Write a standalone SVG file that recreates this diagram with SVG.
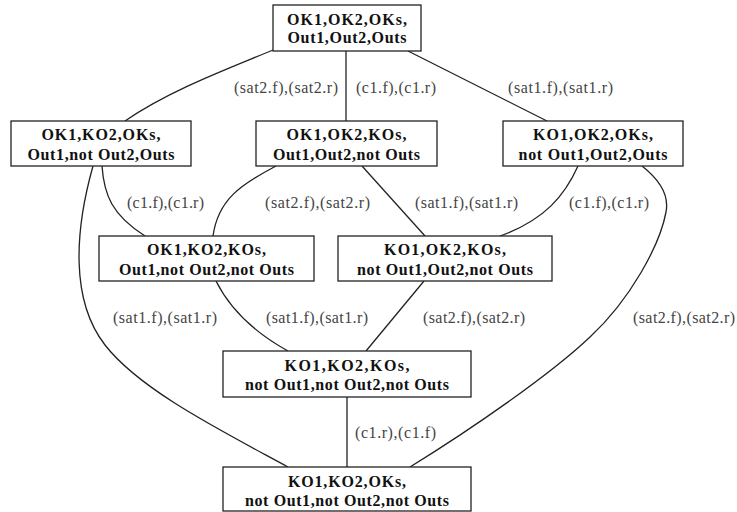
<svg xmlns="http://www.w3.org/2000/svg" width="737" height="512" viewBox="0 0 737 512">
<style>
.box{fill:#fff;stroke:#222;stroke-width:1.3}
.nt{font-family:"Liberation Serif","Times New Roman",serif;font-size:16px;font-weight:bold;fill:#111;text-anchor:middle}
.lb{font-family:"Liberation Serif","Times New Roman",serif;font-size:16px;fill:#444}
.e{fill:none;stroke:#222;stroke-width:1.3}
</style>
<rect width="737" height="512" fill="#fff"/>
<g id="connectors">
<path class="e" d="M273,50 C230,68 170,90 125,121"/>
<path class="e" d="M346,51 L346,121"/>
<path class="e" d="M408,51 L547,121"/>
<path class="e" d="M102,166 C104,195 112,215 145,236"/>
<path class="e" d="M93,166 C75,230 70,300 105,345 C140,390 220,430 288,467"/>
<path class="e" d="M276,166 C240,185 218,200 213,236"/>
<path class="e" d="M362,166 L425,236"/>
<path class="e" d="M578,166 C565,195 545,220 500,236"/>
<path class="e" d="M642,166 C656,177 670,192 666,212 C660,245 630,300 590,337 C550,375 470,430 410,467"/>
<path class="e" d="M216,281 C228,305 250,330 288,351"/>
<path class="e" d="M424,281 L366,351"/>
<path class="e" d="M347,397 L347,467"/>
<text class="lb" x="234" y="93" textLength="104" lengthAdjust="spacing">(sat2.f),(sat2.r)</text>
<text class="lb" x="356" y="93" textLength="80" lengthAdjust="spacing">(c1.f),(c1.r)</text>
<text class="lb" x="508" y="93" textLength="105" lengthAdjust="spacing">(sat1.f),(sat1.r)</text>
<text class="lb" x="127" y="208" textLength="77" lengthAdjust="spacing">(c1.f),(c1.r)</text>
<text class="lb" x="265" y="208" textLength="105" lengthAdjust="spacing">(sat2.f),(sat2.r)</text>
<text class="lb" x="415" y="208" textLength="103" lengthAdjust="spacing">(sat1.f),(sat1.r)</text>
<text class="lb" x="569" y="208" textLength="80" lengthAdjust="spacing">(c1.f),(c1.r)</text>
<text class="lb" x="113" y="323" textLength="104" lengthAdjust="spacing">(sat1.f),(sat1.r)</text>
<text class="lb" x="266" y="323" textLength="102" lengthAdjust="spacing">(sat1.f),(sat1.r)</text>
<text class="lb" x="423" y="323" textLength="102" lengthAdjust="spacing">(sat2.f),(sat2.r)</text>
<text class="lb" x="633" y="323" textLength="102" lengthAdjust="spacing">(sat2.f),(sat2.r)</text>
<text class="lb" x="355" y="438" textLength="81" lengthAdjust="spacing">(c1.r),(c1.f)</text>
</g>
<g id="n1">
<rect class="box" x="273" y="5" width="148" height="46"/>
<text class="nt" x="347" y="25" textLength="120" lengthAdjust="spacing">OK1,OK2,OKs,</text>
<text class="nt" x="347" y="43" textLength="119" lengthAdjust="spacing">Out1,Out2,Outs</text>
</g>
<g id="n2">
<rect class="box" x="11" y="121" width="180" height="45"/>
<text class="nt" x="101" y="140" textLength="119" lengthAdjust="spacing">OK1,KO2,OKs,</text>
<text class="nt" x="101" y="159.5" textLength="147" lengthAdjust="spacing">Out1,not Out2,Outs</text>
</g>
<g id="n3">
<rect class="box" x="256" y="121" width="181" height="45"/>
<text class="nt" x="346.5" y="140" textLength="120" lengthAdjust="spacing">OK1,OK2,KOs,</text>
<text class="nt" x="346.5" y="159.5" textLength="147" lengthAdjust="spacing">Out1,Out2,not Outs</text>
</g>
<g id="n4">
<rect class="box" x="503" y="121" width="180" height="45"/>
<text class="nt" x="593" y="140" textLength="120" lengthAdjust="spacing">KO1,OK2,OKs,</text>
<text class="nt" x="593" y="159.5" textLength="149" lengthAdjust="spacing">not Out1,Out2,Outs</text>
</g>
<g id="n5">
<rect class="box" x="99" y="236" width="215" height="45"/>
<text class="nt" x="206.5" y="255" textLength="119" lengthAdjust="spacing">OK1,KO2,KOs,</text>
<text class="nt" x="206.5" y="274.5" textLength="175" lengthAdjust="spacing">Out1,not Out2,not Outs</text>
</g>
<g id="n6">
<rect class="box" x="338" y="236" width="214" height="45"/>
<text class="nt" x="445" y="255" textLength="122" lengthAdjust="spacing">KO1,OK2,KOs,</text>
<text class="nt" x="445" y="274.5" textLength="176" lengthAdjust="spacing">not Out1,Out2,not Outs</text>
</g>
<g id="n7">
<rect class="box" x="223" y="351" width="248" height="46"/>
<text class="nt" x="347" y="371" textLength="125" lengthAdjust="spacing">KO1,KO2,KOs,</text>
<text class="nt" x="347" y="390" textLength="204" lengthAdjust="spacing">not Out1,not Out2,not Outs</text>
</g>
<g id="n8">
<rect class="box" x="223" y="467" width="248" height="44"/>
<text class="nt" x="347" y="487" textLength="118" lengthAdjust="spacing">KO1,KO2,OKs,</text>
<text class="nt" x="347" y="506" textLength="204" lengthAdjust="spacing">not Out1,not Out2,not Outs</text>
</g>
</svg>
